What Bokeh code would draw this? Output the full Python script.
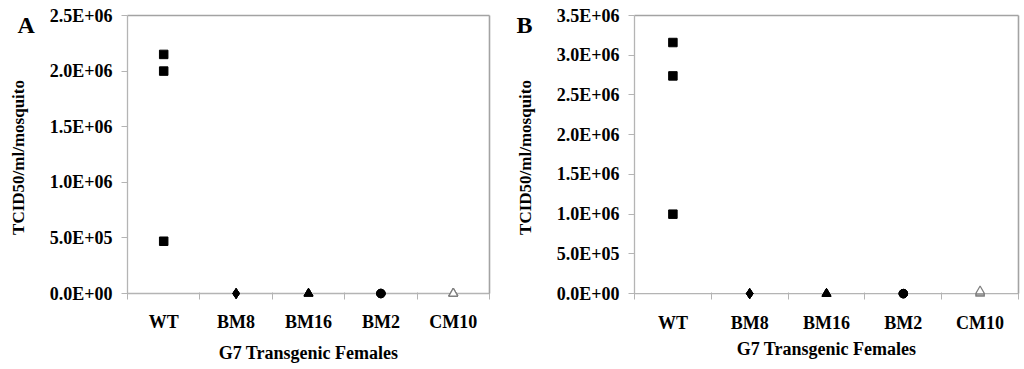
from bokeh.plotting import figure
from bokeh.layouts import row
from bokeh.models import FixedTicker, Range1d, LinearAxis, Span, Title
from bokeh.embed import file_html
from bokeh.resources import INLINE

categories = ["WT", "BM8", "BM16", "BM2", "CM10"]
markers = ["square", "diamond", "triangle", "circle", "triangle"]

# Panel A values (TCID50/ml/mosquito), three mosquitoes per group
a_values = {
    "WT": [2.15e6, 2.0e6, 4.7e5],
    "BM8": [0, 0, 0],
    "BM16": [0, 0, 0],
    "BM2": [0, 0, 0],
    "CM10": [0, 0, 0],
}
# Panel B values
b_values = {
    "WT": [3.16e6, 2.74e6, 1.0e6],
    "BM8": [0, 0, 0],
    "BM16": [0, 0, 0],
    "BM2": [0, 0, 0],
    "CM10": [0, 1.5e4, 3.0e4],
}

a_ticks = [0, 5e5, 1e6, 1.5e6, 2e6, 2.5e6]
a_tick_labels = ["0.0E+00", "5.0E+05", "1.0E+06", "1.5E+06", "2.0E+06", "2.5E+06"]
b_ticks = [0, 5e5, 1e6, 1.5e6, 2e6, 2.5e6, 3e6, 3.5e6]
b_tick_labels = ["0.0E+00", "5.0E+05", "1.0E+06", "1.5E+06", "2.0E+06",
                 "2.5E+06", "3.0E+06", "3.5E+06"]

x_title = "G7 Transgenic Females"
y_title = "TCID50/ml/mosquito"
FONT = "Liberation Serif"
AXIS_GRAY = "#b4b4b4"
BORDER_GRAY = "#a3a3a3"
PAD_PX = 6  # pixels of room below zero so markers on the axis are not clipped


def make_panel(values, ticks, tick_labels, letter, width, height,
               mb_left, mb_right, mb_top, mb_bottom, letter_offset,
               cat_standoff, ytitle_standoff, xtitle_standoff):
    frame_h = height - mb_top - mb_bottom
    top = ticks[-1]
    zero_px = frame_h - PAD_PX
    pad = top * PAD_PX / zero_px
    p = figure(width=width, height=height, output_backend="svg",
               toolbar_location=None, tools="",
               x_range=Range1d(0, len(categories)),
               y_range=Range1d(-pad, top),
               min_border_left=mb_left, min_border_right=mb_right,
               min_border_top=mb_top, min_border_bottom=mb_bottom)
    p.background_fill_color = "white"
    p.border_fill_color = "white"
    p.outline_line_color = None
    p.xgrid.visible = False
    p.ygrid.visible = False

    # visible x axis line at y = 0
    p.add_layout(Span(location=0, dimension="width", line_color=AXIS_GRAY,
                      line_width=1.3, level="underlay"))

    for i, cat in enumerate(categories):
        ys = values[cat]
        xs = [i + 0.5] * len(ys)
        mk = markers[i]
        if cat == "CM10":
            p.scatter(xs, ys, marker=mk, size=9, fill_color="white",
                      line_color="#7f7f7f", line_width=1.2)
        elif mk == "square":
            p.scatter(xs, ys, marker=mk, size=8.5, fill_color="black",
                      line_color="black")
        elif mk == "diamond":
            p.scatter(xs, ys, marker=mk, size=10, fill_color="black",
                      line_color="black")
        elif mk == "triangle":
            p.scatter(xs, ys, marker=mk, size=9, fill_color="black",
                      line_color="black")
        else:
            p.scatter(xs, ys, marker=mk, size=8.5, fill_color="black",
                      line_color="black")

    # x axis: labels at category centres, small ticks between categories
    xa = p.xaxis[0]
    xa.ticker = FixedTicker(ticks=[i + 0.5 for i in range(len(categories))],
                            minor_ticks=list(range(len(categories) + 1)))
    xa.major_label_overrides = {i + 0.5: c for i, c in enumerate(categories)}
    xa.major_tick_out = 0
    xa.major_tick_in = 0
    xa.minor_tick_out = 0
    xa.minor_tick_in = PAD_PX + 1
    xa.minor_tick_line_color = AXIS_GRAY
    xa.axis_line_color = None
    xa.major_label_text_font = FONT
    xa.major_label_text_font_style = "bold"
    xa.major_label_text_font_size = "18px"
    xa.major_label_text_color = "black"
    xa.major_label_standoff = cat_standoff
    xa.axis_label = x_title
    xa.axis_label_text_font = FONT
    xa.axis_label_text_font_style = "bold"
    xa.axis_label_text_font_size = "18px"
    xa.axis_label_text_color = "black"
    xa.axis_label_standoff = xtitle_standoff

    ya = p.yaxis[0]
    ya.ticker = FixedTicker(ticks=ticks, minor_ticks=[])
    ya.major_label_overrides = {t: l for t, l in zip(ticks, tick_labels)}
    ya.bounds = (0, top)
    ya.major_tick_out = 6
    ya.major_tick_in = 0
    ya.minor_tick_out = 0
    ya.minor_tick_in = 0
    ya.major_tick_line_color = AXIS_GRAY
    ya.axis_line_color = AXIS_GRAY
    ya.axis_line_width = 1.3
    ya.major_label_text_font = FONT
    ya.major_label_text_font_style = "bold"
    ya.major_label_text_font_size = "18px"
    ya.major_label_text_color = "black"
    ya.major_label_standoff = 9
    ya.axis_label = y_title
    ya.axis_label_text_font = FONT
    ya.axis_label_text_font_style = "bold"
    ya.axis_label_text_font_size = "17px"
    ya.axis_label_text_color = "black"
    ya.axis_label_standoff = ytitle_standoff

    # plain border on the right and top of the plotting area
    ra = LinearAxis(ticker=FixedTicker(ticks=[]), bounds=(0, top),
                    axis_line_color=BORDER_GRAY, axis_line_width=1.6,
                    major_tick_out=0, major_tick_in=0, minor_tick_out=0,
                    minor_tick_in=0, major_label_standoff=0,
                    major_label_text_font_size="0px")
    p.add_layout(ra, "right")
    ta = LinearAxis(ticker=FixedTicker(ticks=[]),
                    axis_line_color=BORDER_GRAY, axis_line_width=1.6,
                    major_tick_out=0, major_tick_in=0, minor_tick_out=0,
                    minor_tick_in=0, major_label_standoff=0,
                    major_label_text_font_size="0px")
    p.add_layout(ta, "above")

    # panel letter as a title in the top-left corner
    p.add_layout(Title(text=letter, align="left", offset=letter_offset,
                       standoff=-44, text_font=FONT, text_font_style="bold",
                       text_font_size="24px", text_color="black"), "above")
    return p


# panel A: frame x 127..489, zero line at y=293
pa = make_panel(a_values, a_ticks, a_tick_labels, "A", 512, 369,
                127, 23, 15, 70, -110, 12, 19, 8)
# panel B: frame x 629..1018, zero line at y=299
pb = make_panel(b_values, b_ticks, b_tick_labels, "B", 512, 369,
                117, 6, 15, 64, -118, 13, 19, 3)

layout = row(pa, pb)
open("out.html", "w").write(file_html(layout, INLINE))
